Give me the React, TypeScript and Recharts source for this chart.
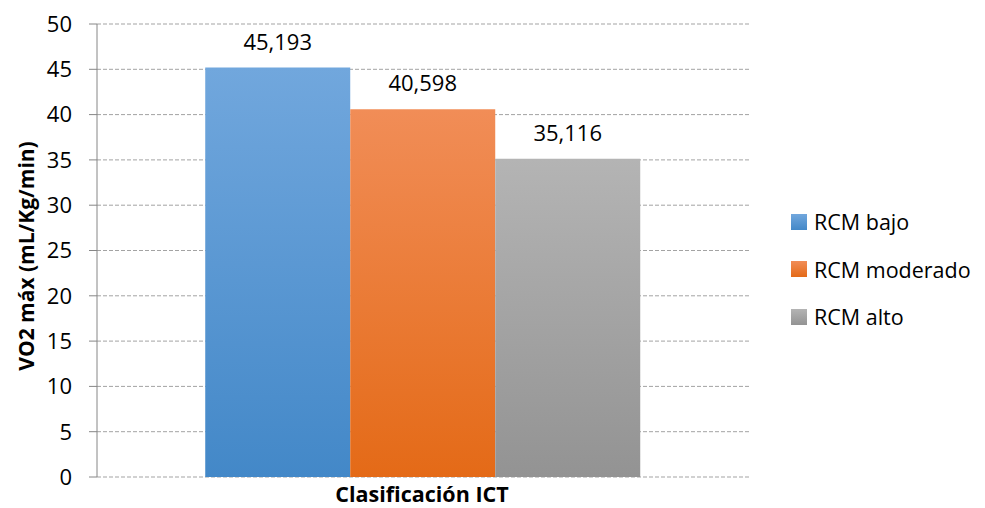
import { Bar, BarChart, CartesianGrid, LabelList, XAxis, YAxis } from 'recharts';

const categories = ['Clasificación ICT'];
const seriesNames = ['RCM bajo', 'RCM moderado', 'RCM alto'];
const seriesValues = [45.193, 40.598, 35.116];
const yTicks = [0, 5, 10, 15, 20, 25, 30, 35, 40, 45, 50];

const seriesKeys = ['bajo', 'moderado', 'alto'];
const gradients = [
    { top: '#71a7dd', bottom: '#4388c8' },
    { top: '#f18d57', bottom: '#e46a17' },
    { top: '#b4b4b4', bottom: '#939393' },
];

const FONT = '"Open Sans", Calibri, Carlito, sans-serif';

const data = categories.map((name) => {
    const row: Record<string, string | number> = { name };
    seriesKeys.forEach((key, i) => {
        row[key] = seriesValues[i];
    });
    return row;
});

const formatValue = (v: unknown) => (typeof v === 'number' ? v.toFixed(3).replace('.', ',') : String(v ?? ''));

export default function App() {
    return (
        <div style={{ position: 'relative', width: 977, height: 500, fontFamily: FONT }}>
            <BarChart
                width={977}
                height={500}
                data={data}
                margin={{ top: 16, right: 236, bottom: 0, left: 0 }}
                barCategoryGap="16.6%"
                barGap={0}
            >
                <defs>
                    {gradients.map((g, i) => (
                        <linearGradient key={i} id={`grad-${i}`} x1="0" y1="0" x2="0" y2="1">
                            <stop offset="0%" stopColor={g.top} />
                            <stop offset="100%" stopColor={g.bottom} />
                        </linearGradient>
                    ))}
                </defs>
                <CartesianGrid vertical={false} stroke="#a3a3a3" strokeDasharray="4 2" />
                <XAxis
                    dataKey="name"
                    height={31}
                    tick={false}
                    axisLine={false}
                    tickLine={false}
                    label={{
                        content: () => (
                            <text
                                x={414}
                                y={494}
                                textAnchor="middle"
                                fontFamily={FONT}
                                fontSize={21.5}
                                fontWeight="bold"
                                fill="#000"
                            >
                                {categories[0]}
                            </text>
                        ),
                    }}
                />
                <YAxis
                    domain={[0, 50]}
                    ticks={yTicks}
                    width={89}
                    tickSize={8}
                    tickMargin={17}
                    interval={0}
                    axisLine={{ stroke: '#868686' }}
                    tickLine={{ stroke: '#868686' }}
                    tick={{ fill: '#000', fontSize: 22, fontFamily: FONT }}
                    label={{
                        content: () => (
                            <text
                                x={18}
                                y={248}
                                transform="rotate(-90 18 248)"
                                textAnchor="middle"
                                dominantBaseline="central"
                                fontFamily={FONT}
                                fontSize={21}
                                fontWeight="bold"
                                fill="#000"
                            >
                                VO2 máx (mL/Kg/min)
                            </text>
                        ),
                    }}
                />
                {seriesKeys.map((key, i) => (
                    <Bar key={key} dataKey={key} name={seriesNames[i]} fill={`url(#grad-${i})`} isAnimationActive={false}>
                        <LabelList
                            dataKey={key}
                            position="top"
                            offset={18}
                            formatter={formatValue}
                            style={{ fill: '#000', fontSize: 22, fontFamily: FONT }}
                        />
                    </Bar>
                ))}
            </BarChart>
            <div style={{ position: 'absolute', left: 783, top: 190 }}>
                {seriesNames.map((name, i) => (
                    <div key={name} style={{ display: 'flex', alignItems: 'center', height: 47.5, fontSize: 21.5 }}>
                        <span
                            style={{
                                width: 16,
                                height: 16,
                                marginRight: 7,
                                background: `linear-gradient(${gradients[i].top}, ${gradients[i].bottom})`,
                            }}
                        />
                        <span style={{ color: '#000' }}>{name}</span>
                    </div>
                ))}
            </div>
        </div>
    );
}
